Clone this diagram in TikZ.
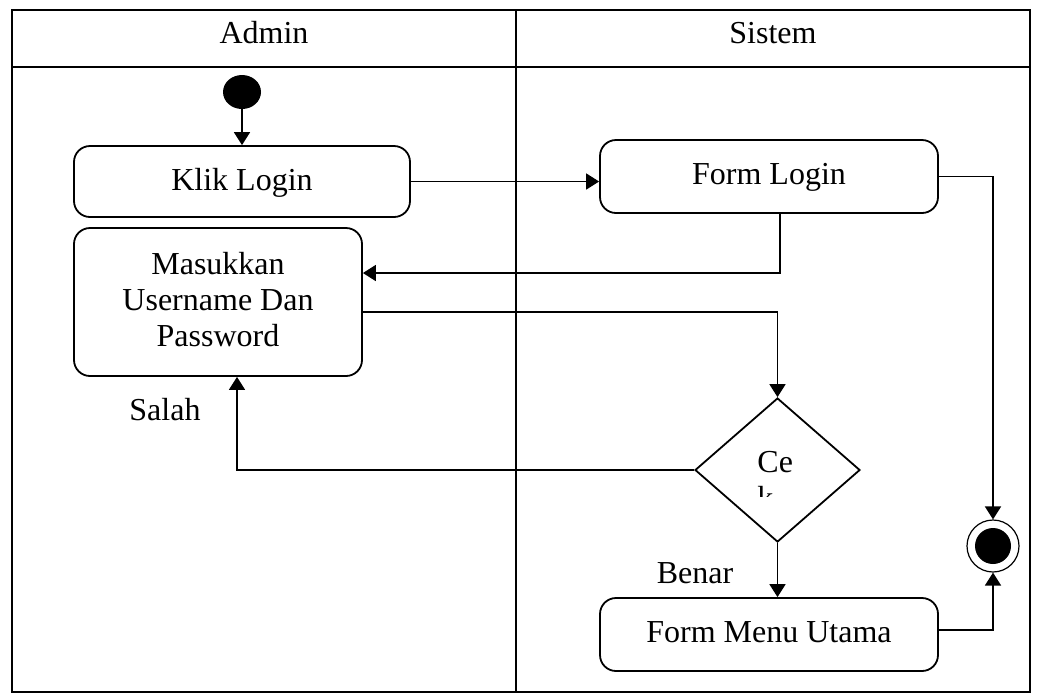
\documentclass[tikz,border=0pt]{standalone}
\usepackage{fontspec}
\setmainfont{Liberation Serif}
\usetikzlibrary{positioning,shapes.geometric,arrows.meta}

\begin{document}
\begin{tikzpicture}[x=0.5pt,y=-0.5pt,
    font=\fontsize{16}{18}\selectfont,
    lane/.style={draw, line width=0.9pt},
    action/.style={rectangle, rounded corners=8pt, draw, line width=0.9pt, align=center, inner sep=0pt, text depth=0.5ex},
    flow/.style={-{Triangle[length=6.5pt,width=8pt]}, line width=0.9pt}]
    \useasboundingbox (0,0) rectangle (1038,698);
    % swimlanes
    \draw[lane] (12,10) rectangle (1030,692);
    \draw[lane] (12,67) -- (1030,67);
    \draw[lane] (516,10) -- (516,692);
    \node (admin) at (264,33) {Admin};
    \node (sistem) at (773,33) {Sistem};

    \node[ellipse, fill, inner sep=0pt, minimum width=19pt, minimum height=17pt] (start) at (242,92) {};
    \node[action, minimum width=168pt, minimum height=35.5pt] (klik) at (242,181.5) {Klik Login};
    \node[action, minimum width=169pt, minimum height=36.5pt] (formlogin) at (769,176.5) {Form Login};
    \node[action, minimum width=144pt, minimum height=74pt] (masuk) at (218,302) {Masukkan\\Username Dan\\Password};
    \node[diamond, draw, line width=0.9pt, inner sep=0pt, minimum width=82.5pt, minimum height=72pt] (cek) at (777.5,470) {};
    \node[action, minimum width=169pt, minimum height=36.5pt] (menu) at (769,634.5) {Form Menu Utama};
    \node[circle, draw, line width=0.6pt, inner sep=0pt, minimum size=26pt] (end) at (993,546) {};
    \node[circle, fill, inner sep=0pt, minimum size=18pt] (endfill) at (end) {};

    % text of the decision, cut off by the shape
    \begin{scope}
        \clip (700,440) rectangle (860,496);
        \node[anchor=base west, inner sep=0pt] (ce) at (757,472) {Ce};
        \node[anchor=base west, inner sep=0pt] (cek2) at (757,508) {k};
    \end{scope}

    \node (salah) at (165,410) {Salah};
    \node (benar) at (695,573) {Benar};

    \draw[flow] (start) -- (klik);
    \draw[flow] (klik.east) -- (klik.east -| formlogin.west);
    \draw[flow] ([xshift=5.5pt]formlogin.south) |- ([yshift=14.5pt]masuk.east);
    \draw[flow] ([yshift=-5pt]masuk.east) -| (cek.north);
    \draw[flow] (cek.west) -| ([xshift=9.5pt]masuk.south);
    \draw[flow] (cek.south) -- (cek.south |- menu.north);
    \draw[flow] (formlogin.east) -| (end.north);
    \draw[flow] ([yshift=2.25pt]menu.east) -| (end.south);
\end{tikzpicture}
\end{document}
